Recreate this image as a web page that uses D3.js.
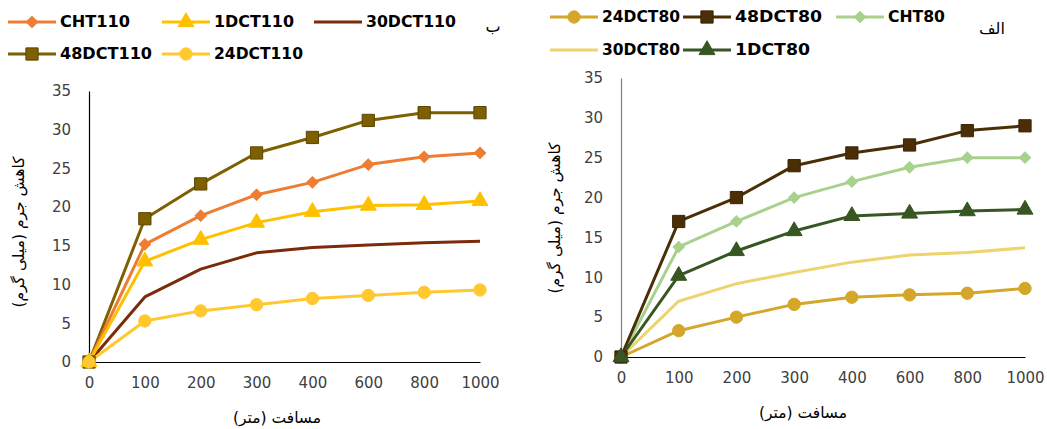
<!DOCTYPE html>
<html><head><meta charset="utf-8">
<script src="https://cdn.jsdelivr.net/npm/d3@7"></script>
<style>body{margin:0;background:#fff}svg{display:block}</style>
</head><body>
<svg id="c" width="1047" height="429"></svg>
<script>
const categories = ["0","100","200","300","400","600","800","1000"];
const yTicks = [0,5,10,15,20,25,30,35];

// Left panel (ب)
const CHT110   = [0,15.2,18.9,21.6,23.2,25.5,26.5,27.0];
const DCT1_110 = [0,13.0,15.8,18.0,19.4,20.2,20.3,20.8];
const DCT30_110= [0,8.4,12.0,14.1,14.8,15.1,15.4,15.6];
const DCT48_110= [0,18.5,23.0,27.0,29.0,31.2,32.2,32.2];
const DCT24_110= [0,5.3,6.6,7.4,8.2,8.6,9.0,9.3];

// Right panel (الف)
const DCT24_80 = [0,3.3,5.0,6.6,7.5,7.8,8.0,8.6];
const DCT48_80 = [0,17.0,20.0,24.0,25.6,26.6,28.4,29.0];
const CHT80    = [0,13.8,17.0,20.0,22.0,23.8,25.0,25.0];
const DCT30_80 = [0,7.0,9.2,10.6,11.9,12.8,13.1,13.7];
const DCT1_80  = [0,10.2,13.3,15.8,17.7,18.0,18.3,18.5];

const xTitle = "مسافت (متر)";
const yTitle = "کاهش جرم (میلی گرم)";

const svg = d3.select("#c");
const FONT = "DejaVu Sans, Verdana, sans-serif";

function marker(g, type, x, y, fill, stroke, size) {
  if (type === "none") return;
  let sym = {diamond: d3.symbolSquare, square: d3.symbolSquare, circle: d3.symbolCircle, triangle: d3.symbolTriangle}[type];
  const p = g.append("path").attr("d", d3.symbol().type(sym).size(size)())
    .attr("fill", fill).attr("stroke", stroke).attr("stroke-width", 1);
  if (type === "diamond") p.attr("transform", `translate(${x},${y}) rotate(45)`);
  else p.attr("transform", `translate(${x},${y})`);
}

function panel(opt) {
  const x = d3.scalePoint().domain(categories).range([opt.x0, opt.x1]).padding(0);
  const y = d3.scaleLinear().domain([0,35]).range([opt.y0, opt.y1]);
  const g = svg.append("g");
  const ya = g.append("g").attr("transform", `translate(${opt.x0},0)`)
    .call(d3.axisLeft(y).tickValues(yTicks).tickSize(0).tickPadding(18));
  ya.select(".domain").attr("stroke", opt.yAxisColor).attr("stroke-width", 1.2);
  ya.selectAll("text").attr("font-family", FONT).attr("font-size", 15).attr("fill", "#404040");
  const xa = g.append("g").attr("transform", `translate(0,${opt.y0})`)
    .call(d3.axisBottom(x).tickSize(0).tickPadding(opt.xPad));
  xa.select(".domain").attr("stroke", "#000").attr("stroke-width", 1.2);
  xa.selectAll("text").attr("font-family", FONT).attr("font-size", 15).attr("fill", "#404040");
  g.append("text").attr("x", opt.xtX).attr("y", opt.xtY).attr("text-anchor", "middle")
    .attr("font-family", FONT).attr("font-size", 15.5).attr("fill", "#000").attr("direction","rtl").text(xTitle);
  g.append("text").attr("transform", `translate(${opt.ytX},${opt.ytY}) rotate(-90)`).attr("text-anchor", "middle")
    .attr("font-family", FONT).attr("font-size", 15.5).attr("fill", "#000").attr("direction","rtl").text(yTitle);
  const line = d3.line().x((d,i)=>x(categories[i])).y(d=>y(d));
  opt.series.forEach(s => {
    g.append("path").datum(s.values).attr("d", line).attr("fill", "none")
      .attr("stroke", s.color).attr("stroke-width", 3).attr("stroke-linejoin", "round");
  });
  opt.series.forEach(s => {
    s.values.forEach((v,i) => marker(g, s.marker, x(categories[i]), y(v), s.color, s.mstroke || s.color, s.msize));
  });
  opt.series.forEach(s => {
    const lg = g.append("g").attr("transform", `translate(${s.lx},${s.ly})`);
    lg.append("line").attr("x1", 0).attr("x2", 48).attr("y1", 0).attr("y2", 0)
      .attr("stroke", s.color).attr("stroke-width", 3);
    marker(lg, s.marker, 24, 0, s.color, s.mstroke || s.color, s.msize);
    lg.append("text").attr("x", 52).attr("y", 0).attr("dy", "0.36em")
      .attr("font-family", FONT).attr("font-weight", "bold").attr("font-size", 15)
      .attr("textLength", s.tw).attr("lengthAdjust", "spacingAndGlyphs")
      .attr("fill", "#000").text(s.name);
  });
  g.append("text").attr("x", opt.tagX).attr("y", opt.tagY).attr("text-anchor", "middle")
    .attr("font-family", FONT).attr("font-size", 16).attr("fill", "#000").text(opt.tag);
}

panel({
  x0: 89, x1: 480, y0: 362, y1: 91, xPad: 15, yAxisColor: "#000",
  xtX: 277, xtY: 423, ytX: 24, ytY: 232, tag: "ب", tagX: 493, tagY: 32,
  series: [
    {name:"30DCT110", values: DCT30_110, color:"#7B2A0A", marker:"none", msize:0, lx:314, ly:22, tw:90},
    {name:"48DCT110", values: DCT48_110, color:"#7F6000", mstroke:"#5a4400", marker:"square", msize:150, lx:8, ly:54, tw:92},
    {name:"CHT110", values: CHT110, color:"#ED7D31", marker:"diamond", msize:64, lx:8, ly:22, tw:70},
    {name:"1DCT110", values: DCT1_110, color:"#FFC000", marker:"triangle", msize:110, lx:162, ly:22, tw:80},
    {name:"24DCT110", values: DCT24_110, color:"#FFC82E", marker:"circle", msize:120, lx:162, ly:54, tw:89}
  ]
});

panel({
  x0: 621, x1: 1025, y0: 357, y1: 78, xPad: 15, yAxisColor: "#7f7f7f",
  xtX: 803, xtY: 418, ytX: 560, ytY: 218, tag: "الف", tagX: 992, tagY: 34,
  series: [
    {name:"30DCT80", values: DCT30_80, color:"#EDD46E", marker:"none", msize:0, lx:550, ly:50, tw:78},
    {name:"24DCT80", values: DCT24_80, color:"#D4A62A", marker:"circle", msize:120, lx:550, ly:17, tw:78},
    {name:"CHT80", values: CHT80, color:"#A9D18E", marker:"diamond", msize:64, lx:836, ly:17, tw:57},
    {name:"48DCT80", values: DCT48_80, color:"#4A2F06", mstroke:"#3a2404", marker:"square", msize:150, lx:683, ly:17, tw:87},
    {name:"1DCT80", values: DCT1_80, color:"#375623", marker:"triangle", msize:110, lx:683, ly:50, tw:75}
  ]
});
</script>
</body></html>
